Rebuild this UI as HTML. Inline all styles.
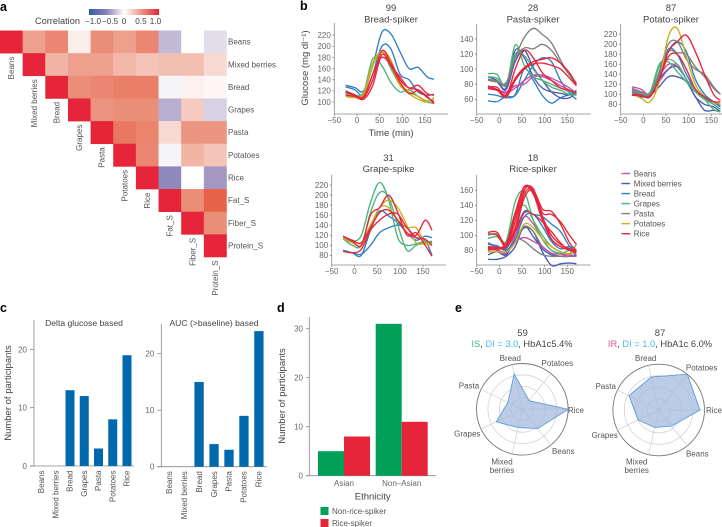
<!DOCTYPE html>
<html lang="en">
<head>
<meta charset="utf-8">
<title>Glucose spiker figure</title>
<style>
html,body{margin:0;padding:0;background:#fff;}
body{width:722px;height:527px;overflow:hidden;}
svg{display:block;}
text{font-family:"Liberation Sans",sans-serif;fill:#555;}
.panel{font-weight:bold;font-size:12.5px;fill:#000;}
.t{font-size:9.5px;fill:#444;text-anchor:middle;}
.tick{font-size:8px;fill:#666;}
.lab{font-size:8px;fill:#555;}
.axis{stroke:#8a8a8a;stroke-width:.8;fill:none;}
</style>
</head>
<body>
<svg id="figure" width="722" height="527" viewBox="0 0 722 527" xmlns="http://www.w3.org/2000/svg">
  <defs>
    <linearGradient id="cbar" x1="0" x2="1" y1="0" y2="0">
      <stop offset="0" stop-color="#2f5fa8"/>
      <stop offset=".25" stop-color="#8d7fb5"/>
      <stop offset=".5" stop-color="#ffffff"/>
      <stop offset=".75" stop-color="#eb9580"/>
      <stop offset="1" stop-color="#e6243a"/>
    </linearGradient>
  </defs>
  <text class="panel" x="0" y="11">a</text>
  <text class="panel" x="300" y="10">b</text>
  <text class="panel" x="0" y="312">c</text>
  <text class="panel" x="277" y="312">d</text>
  <text class="panel" x="455" y="312">e</text>

  <rect x="89" y="9" width="70" height="6" fill="url(#cbar)"/>
  <text x="35" y="24" font-size="9.2" style="fill:#444">Correlation</text>
  <g id="heatmap"></g>
  <g id="panelB"></g>

  <text class="t" x="391" y="11">99</text>
  <text class="t" x="391" y="22.5">Bread-spiker</text>
  <text class="t" x="533" y="11">28</text>
  <text class="t" x="533" y="22.5">Pasta-spiker</text>
  <text class="t" x="671" y="11">87</text>
  <text class="t" x="671" y="22.5">Potato-spiker</text>
  <text class="t" x="388.5" y="161">31</text>
  <text class="t" x="388.5" y="172">Grape-spike</text>
  <text class="t" x="533" y="161">18</text>
  <text class="t" x="533" y="172">Rice-spiker</text>
  <text class="t" transform="translate(308,68) rotate(-90)">Glucose (mg dl⁻¹)</text>
  <text class="t" x="391" y="136">Time (min)</text>

  <g id="panelC"></g>
  <text class="t" x="84" y="326" style="font-size:8.6px">Delta glucose based</text>
  <text class="t" x="214" y="326" style="font-size:8.6px">AUC (&gt;baseline) based</text>
  <text class="t" transform="translate(11,393) rotate(-90)">Number of participants</text>

  <g id="panelD"></g>
  <text class="t" transform="translate(285,396) rotate(-90)">Number of participants</text>
  <text class="t" x="372.7" y="499.5">Ethnicity</text>
  <rect x="320.5" y="507" width="8" height="8" fill="#00a05a"/>
  <text class="lab" x="332" y="514">Non-rice-spiker</text>
  <rect x="320.5" y="519" width="8" height="8" fill="#e6243a"/>
  <text class="lab" x="332" y="526">Rice-spiker</text>

  <g id="panelE"></g>
  <text class="t" x="522.5" y="336">59</text>
  <text class="t" x="522" y="347" style="font-size:9.3px"><tspan style="fill:#3cb78a">IS</tspan>, <tspan style="fill:#3fc0e8">DI = 3.0</tspan>, HbA1c5.4%</text>
  <text class="t" x="660" y="336">87</text>
  <text class="t" x="660" y="347" style="font-size:9.3px"><tspan style="fill:#e0558f">IR</tspan>, <tspan style="fill:#3fc0e8">DI = 1.0</tspan>, HbA1c 6.0%</text>
</svg>
<script>
// ---------- data ----------
const heatLabels = ['Beans','Mixed berries','Bread','Grapes','Pasta','Potatoes','Rice','Fat_S','Fiber_S','Protein_S'];
const heatValues = [
  [1,.45,.6,.08,.55,.45,.6,-.3,0,-.15],
  [1,.35,.45,.45,.33,.28,.3,.3,.18],
  [1,.55,.6,.65,.65,-.05,.06,.04],
  [1,.5,.55,.55,-.35,.25,-.2],
  [1,.7,.62,.18,.5,.5],
  [1,.6,-.05,.35,.28],
  [1,-.55,0,-.45],
  [1,.55,.85],
  [1,.55],
  [1]
];
const colorbarTicks = ['−1.0','−0.5','0','0.5','1.0'];

const curveTimes = [-25,-5,15,35,55,75,95,115,135,155,170];
const xTicks = [-50,0,50,100,150];

const breadFoods = ['Bread','Bread','Grapes','Grapes','Potatoes','Potatoes','Rice','Rice','Rice'];
const breadValues = [
  [130,126,120,165,225,222,190,160,162,145,141],
  [127,122,112,150,200,195,150,140,118,112,114],
  [117,112,118,178,165,135,118,122,110,100,98],
  [115,110,115,165,190,160,130,118,110,100,98],
  [113,108,112,165,192,175,135,118,110,102,105],
  [110,108,115,170,190,165,130,115,105,100,108],
  [120,113,108,140,192,170,140,125,122,110,97],
  [112,110,105,130,185,165,145,125,130,115,112],
  [118,112,110,150,180,165,135,115,120,108,100]
];
const breadYTicks = [100,120,140,160,180,200,220];

const pastaFoods = ['Bread','Bread','Beans','Beans','Mixed berries','Mixed berries','Grapes','Grapes','Pasta','Pasta','Rice','Rice','Rice'];
const pastaValues = [
  [67,65,62,65,85,105,115,110,85,68,60],
  [58,57,64,66,100,85,65,55,62,66,66],
  [74,72,68,75,85,92,92,88,82,75,68],
  [78,73,70,78,80,90,90,85,78,72,65],
  [90,85,75,125,115,90,75,70,68,66,72],
  [86,83,73,110,125,102,85,70,62,62,70],
  [94,93,78,132,105,90,85,80,75,70,68],
  [90,88,80,120,118,100,85,76,72,66,66],
  [87,84,80,115,142,154,146,135,112,92,82],
  [85,83,82,115,128,127,133,125,108,92,78],
  [76,76,65,100,125,115,95,85,75,72,68],
  [75,72,63,85,100,107,108,105,100,88,78],
  [76,73,66,88,102,110,113,115,108,95,80]
];
const pastaYTicks = [60,80,100,120,140];

const potatoFoods = ['Beans','Beans','Mixed berries','Mixed berries','Bread','Bread','Grapes','Grapes','Pasta','Pasta','Potatoes','Rice','Rice'];
const potatoValues = [
  [115,110,100,135,160,155,130,105,95,85,80],
  [112,105,100,125,150,160,130,105,90,85,78],
  [105,95,98,115,135,135,125,95,68,68,65],
  [100,95,100,130,150,155,130,95,80,75,65],
  [110,100,98,130,185,205,185,130,100,85,75],
  [103,100,95,140,190,180,140,110,92,80,70],
  [108,98,100,155,170,160,130,110,90,70,65],
  [110,103,105,160,165,145,125,105,90,80,70],
  [105,100,100,145,200,205,170,150,140,115,100],
  [108,105,100,135,185,183,180,155,135,112,100],
  [102,92,85,125,215,232,175,120,95,85,80],
  [98,97,97,130,185,205,218,185,140,100,88],
  [100,98,95,130,175,180,150,110,95,85,85]
];
const potatoYTicks = [80,100,120,140,160,180,200,220];

const grapeFoods = ['Bread','Bread','Grapes','Grapes','Potatoes','Potatoes','Rice','Rice','Rice'];
const grapeValues = [
  [90,85,80,130,168,158,145,125,110,118,115],
  [90,85,82,100,125,135,140,135,115,110,80],
  [115,108,120,185,225,190,115,100,103,108,105],
  [113,100,100,165,205,195,140,90,100,105,108],
  [118,110,105,140,175,190,175,140,105,103,100],
  [113,105,100,135,175,175,150,135,135,105,103],
  [118,108,100,160,175,200,165,120,125,100,78],
  [88,85,92,130,150,162,162,135,120,150,130],
  [118,110,105,135,165,170,150,125,115,112,100]
];
const grapeYTicks = [80,100,120,140,160,180,200,220];

const riceFoods = ['Mixed berries','Mixed berries','Pasta','Pasta','Beans','Beans','Bread','Bread','Grapes','Grapes','Potatoes','Rice','Rice','Rice','Rice','Rice','Rice'];
const riceValues = [
  [74,78,74,95,110,105,78,60,62,63,62],
  [68,68,72,85,112,98,82,74,72,72,74],
  [90,82,76,95,92,82,74,72,72,72,72],
  [82,80,78,95,112,105,85,76,72,72,72],
  [85,80,78,92,97,92,85,76,75,72,74],
  [84,80,76,100,125,115,95,80,76,74,72],
  [90,85,82,105,132,128,125,115,105,85,72],
  [88,86,80,95,125,128,112,92,82,85,78],
  [100,102,92,145,158,120,95,80,76,80,78],
  [96,98,90,130,140,120,100,85,78,76,88],
  [78,78,78,90,115,110,95,85,78,75,78],
  [104,104,88,125,164,155,120,95,85,80,78],
  [102,100,86,118,160,162,125,95,85,80,76],
  [85,84,88,130,165,158,125,100,88,82,80],
  [82,82,85,110,155,160,130,128,118,100,88],
  [80,82,84,105,150,160,135,132,115,90,80],
  [84,82,88,105,130,128,118,105,90,80,80]
];
const riceYTicks = [80,100,120,140,160];

const legendFoods = ['Beans','Mixed berries','Bread','Grapes','Pasta','Potatoes','Rice'];

const barFoods = ['Beans','Mixed berries','Bread','Grapes','Pasta','Potatoes','Rice'];
const deltaCounts = [0,0,13,12,3,8,19];
const aucCounts = [0,0,15,4,3,9,24];
const deltaTicks = [0,10,20];
const aucTicks = [0,10,20];

const ethnicityGroups = ['Asian','Non–Asian'];
const nonRiceCounts = [5,31];
const riceCounts = [8,11];
const ethnicityTicks = [0,10,20,30];

const radarAxes = ['Rice','Potatoes','Bread','Pasta','Grapes','Mixed berries','Beans'];
const radar59Values = [1.0,.24,.79,.35,.63,.41,.54];
const radar87Values = [.9,1.0,.74,.72,.5,.39,.45];
const radarRings = [.25,.5,.75,1];

// ---------- helpers ----------
const NS = 'http://www.w3.org/2000/svg';
const foodColor = {'Beans':'#c94ea5','Mixed berries':'#4a5ab0','Bread':'#2f7fc6','Grapes':'#4fb37c','Pasta':'#7f7f7f','Potatoes':'#c9ae1e','Rice':'#e8253a'};
const slug = s => String(s).toLowerCase().replace(/[^a-z0-9]+/g,'-');
function mk(parent, tag, attrs, content){
  const el = document.createElementNS(NS, tag);
  for(const k in attrs) el.setAttribute(k, attrs[k]);
  if(content !== undefined) el.textContent = content;
  parent.appendChild(el);
  return el;
}
function lerpHex(a,b,t){
  const pa=[1,3,5].map(i=>parseInt(a.substr(i,2),16)), pb=[1,3,5].map(i=>parseInt(b.substr(i,2),16));
  return 'rgb('+pa.map((v,i)=>Math.round(v+(pb[i]-v)*t)).join(',')+')';
}
function heatColor(v){
  const stops=[[-1,'#2f5fa8'],[-.5,'#9a8cbc'],[0,'#ffffff'],[.5,'#eb9580'],[.85,'#e8624a'],[.99,'#e8624a'],[1,'#e6243a']];
  for(let i=1;i<stops.length;i++){ if(v<=stops[i][0]) return lerpHex(stops[i-1][1],stops[i][1],(v-stops[i-1][0])/(stops[i][0]-stops[i-1][0])); }
  return stops[stops.length-1][1];
}
function smoothPath(pts){
  let d='M'+pts[0][0].toFixed(1)+' '+pts[0][1].toFixed(1);
  for(let i=0;i<pts.length-1;i++){
    const p0=pts[Math.max(0,i-1)],p1=pts[i],p2=pts[i+1],p3=pts[Math.min(pts.length-1,i+2)];
    const c1=[p1[0]+(p2[0]-p0[0])/6,p1[1]+(p2[1]-p0[1])/6],c2=[p2[0]-(p3[0]-p1[0])/6,p2[1]-(p3[1]-p1[1])/6];
    d+='C'+c1[0].toFixed(1)+' '+c1[1].toFixed(1)+' '+c2[0].toFixed(1)+' '+c2[1].toFixed(1)+' '+p2[0].toFixed(1)+' '+p2[1].toFixed(1);
  }
  return d;
}

// ---------- panel a ----------
(function(){
  const g = document.getElementById('heatmap');
  const cell = 22.65, top = 30.5;
  heatValues.forEach((row,i)=>{
    row.forEach((v,k)=>{
      const j = i+k;
      const r = mk(g,'rect',{x:j*cell,y:top+i*cell,width:cell+.3,height:cell+.3,fill:heatColor(v)});
      
      
    });
    const rl = mk(g,'text',{class:'lab',x:228,y:top+(i+.5)*cell+2.8},heatLabels[i]);
    
    
    const cx=(i+.5)*cell+2.8, cy=top+(i+1)*cell+3.5;
    const cl = mk(g,'text',{class:'lab',transform:'translate('+cx+','+cy+') rotate(-90)','text-anchor':'end'},heatLabels[i]);
    
    
  });
  const tx=[93,110,124,141,155.5];
  colorbarTicks.forEach((t,i)=>{
    const l = mk(g,'text',{class:'tick','text-anchor':'middle',x:tx[i],y:24,style:'font-size:8.2px;fill:#444'},t);
    
    
  });
})();

// ---------- panel b ----------
function curvePanel(name,foods,values,yTicks,box){
  const root = document.getElementById('panelB');
  const g = mk(root,'g',{});
  
  
  const sx = t => box.x0 + (t+50)*box.kx;
  const sy = v => box.yRef - (v-box.vRef)*box.ky;
  const ax = mk(g,'path',{class:'axis',d:'M'+box.x0+' '+box.top+'V'+box.bottom+'H'+box.x1});
  
  
  xTicks.forEach(t=>{
    const tk = mk(g,'line',{class:'axis',x1:sx(t),x2:sx(t),y1:box.bottom,y2:box.bottom+2});
    
    
    const l = mk(g,'text',{class:'tick','text-anchor':'middle',x:sx(t),y:box.bottom+9},String(t).replace('-','−'));
    
    
  });
  yTicks.forEach(v=>{
    const tk = mk(g,'line',{class:'axis',x1:box.x0-2,x2:box.x0,y1:sy(v),y2:sy(v)});
    
    
    const l = mk(g,'text',{class:'tick','text-anchor':'end',x:box.x0-3.5,y:sy(v)+2.9},v);
    
    
  });
  values.forEach((vals,i)=>{
    const pts = vals.map((v,k)=>[sx(curveTimes[k]),sy(v)]);
    const p = mk(g,'path',{d:smoothPath(pts),fill:'none',stroke:foodColor[foods[i]],'stroke-width':1.35,'stroke-linejoin':'round'});
    
    
  });
}
curvePanel('bread-spiker',breadFoods,breadValues,breadYTicks,{x0:334.3,x1:448,kx:.453,top:23,bottom:114,yRef:102,vRef:100,ky:.558});
curvePanel('pasta-spiker',pastaFoods,pastaValues,pastaYTicks,{x0:476.7,x1:590.7,kx:.453,top:24,bottom:114,yRef:99.3,vRef:60,ky:.754});
curvePanel('potato-spiker',potatoFoods,potatoValues,potatoYTicks,{x0:620.7,x1:722,kx:.453,top:24,bottom:114,yRef:104.3,vRef:80,ky:.5});
curvePanel('grape-spike',grapeFoods,grapeValues,grapeYTicks,{x0:331.7,x1:446,kx:.456,top:175,bottom:265,yRef:255.3,vRef:80,ky:.502});
curvePanel('rice-spiker',riceFoods,riceValues,riceYTicks,{x0:476.7,x1:590.7,kx:.453,top:175,bottom:265,yRef:250.3,vRef:80,ky:.75});

(function(){
  const g = document.getElementById('panelB');
  legendFoods.forEach((f,i)=>{
    const y = 173.5+i*10.03;
    const s = mk(g,'line',{x1:621.5,x2:630,y1:y,y2:y,stroke:foodColor[f],'stroke-width':1.4});
    
    
    const t = mk(g,'text',{class:'lab',x:633.7,y:y+2.8},f);
    
    
  });
})();

// ---------- panel c ----------
function barPanel(name,counts,ticks,box){
  const root = document.getElementById('panelC');
  const g = mk(root,'g',{});
  
  
  const sy = v => box.y0 - v*box.ky;
  const sx = i => box.cx0 + i*box.step;
  const ax = mk(g,'path',{class:'axis',d:'M'+box.x0+' '+box.top+'V'+box.y0+'H'+box.x1+'M'+(box.x0-4)+' '+box.y0+'H'+box.x0});
  
  
  ticks.forEach(v=>{
    const tk = mk(g,'line',{class:'axis',x1:box.x0-4,x2:box.x0,y1:sy(v),y2:sy(v)});
    
    
    const l = mk(g,'text',{class:'tick','text-anchor':'end',x:box.x0-7,y:sy(v)+2.9},v);
    
    
  });
  counts.forEach((c,i)=>{
    const r = mk(g,'rect',{x:sx(i)-box.w/2,y:sy(c),width:box.w,height:c*box.ky,fill:'#0068ad'});
    
    
    const l = mk(g,'text',{class:'tick',style:'font-size:8px;fill:#555','text-anchor':'end',transform:'translate('+(sx(i)+2.7)+','+(box.y0+4.5)+') rotate(-90)'},barFoods[i]);
    
    
  });
}
barPanel('delta-glucose',deltaCounts,deltaTicks,{x0:34,x1:134,top:320,y0:466,ky:5.83,cx0:41.5,step:14.25,w:9});
barPanel('auc-baseline',aucCounts,aucTicks,{x0:161.3,x1:266.7,top:324,y0:466.7,ky:5.65,cx0:169.2,step:14.95,w:9.3});

// ---------- panel d ----------
(function(){
  const g = document.getElementById('panelD');
  const sy = v => 475.7 - v*4.9;
  const groupX = [344,401.7], w = 26;
  const ax = mk(g,'path',{class:'axis',d:'M309.3 316.7V475.7H436M306 475.7H309.3'});
  
  
  ethnicityTicks.forEach(v=>{
    const tk = mk(g,'line',{class:'axis',x1:306,x2:309.3,y1:sy(v),y2:sy(v)});
    
    
    const l = mk(g,'text',{class:'tick','text-anchor':'end',x:303,y:sy(v)+2.9},v);
    
    
  });
  ethnicityGroups.forEach((name,i)=>{
    const a = mk(g,'rect',{x:groupX[i]-w,y:sy(nonRiceCounts[i]),width:w,height:nonRiceCounts[i]*4.9,fill:'#00a05a'});
    
    
    const b = mk(g,'rect',{x:groupX[i],y:sy(riceCounts[i]),width:w,height:riceCounts[i]*4.9,fill:'#e6243a'});
    
    
    const l = mk(g,'text',{class:'tick','text-anchor':'middle',x:groupX[i],y:486},name);
    
    
  });
})();

// ---------- panel e ----------
function radar(name,values,cx,cy,labelPos){
  const root = document.getElementById('panelE');
  const g = mk(root,'g',{});
  
  
  const R = 45.8;
  const pt = (k,f) => { const a = k*2*Math.PI/radarAxes.length; return [cx+R*f*Math.cos(a),cy-R*f*Math.sin(a)]; };
  radarRings.forEach((f,i)=>{
    const c = mk(g,'circle',{cx:cx,cy:cy,r:R*f,fill:'none',stroke:i===3?'#777':'#d4d4d4','stroke-width':i===3?.9:.8});
    
    
  });
  radarAxes.forEach((n,k)=>{
    const e = pt(k,1);
    const s = mk(g,'line',{x1:cx,y1:cy,x2:e[0],y2:e[1],stroke:'#d4d4d4','stroke-width':.8});
    
    
    const parts = n.split(' ');
    const lp = labelPos[k];
    parts.forEach((w,pi)=>{
      const t = mk(g,'text',{class:'lab','text-anchor':'middle',x:lp[0],y:lp[1]+2.8+pi*8.7},w);
      
      
    });
  });
  const poly = mk(g,'polygon',{points:values.map((v,k)=>pt(k,v).map(n=>n.toFixed(1)).join(',')).join(' '),fill:'#a5b9de','fill-opacity':.75,stroke:'#5b9fd8','stroke-width':.9});
  
  
}
radar('59',radar59Values,522.3,409.3,[[576,410],[557.3,363.3],[510.3,358.3],[469,385.7],[467.3,433.7],[502,461.7],[563.3,451.3]]);
radar('87',radar87Values,658.7,410,[[714,410.3],[701.7,367.7],[645.7,358.3],[605.7,386],[604.7,435.3],[636.7,461.7],[697.3,453.7]]);
</script>
</body>
</html>
